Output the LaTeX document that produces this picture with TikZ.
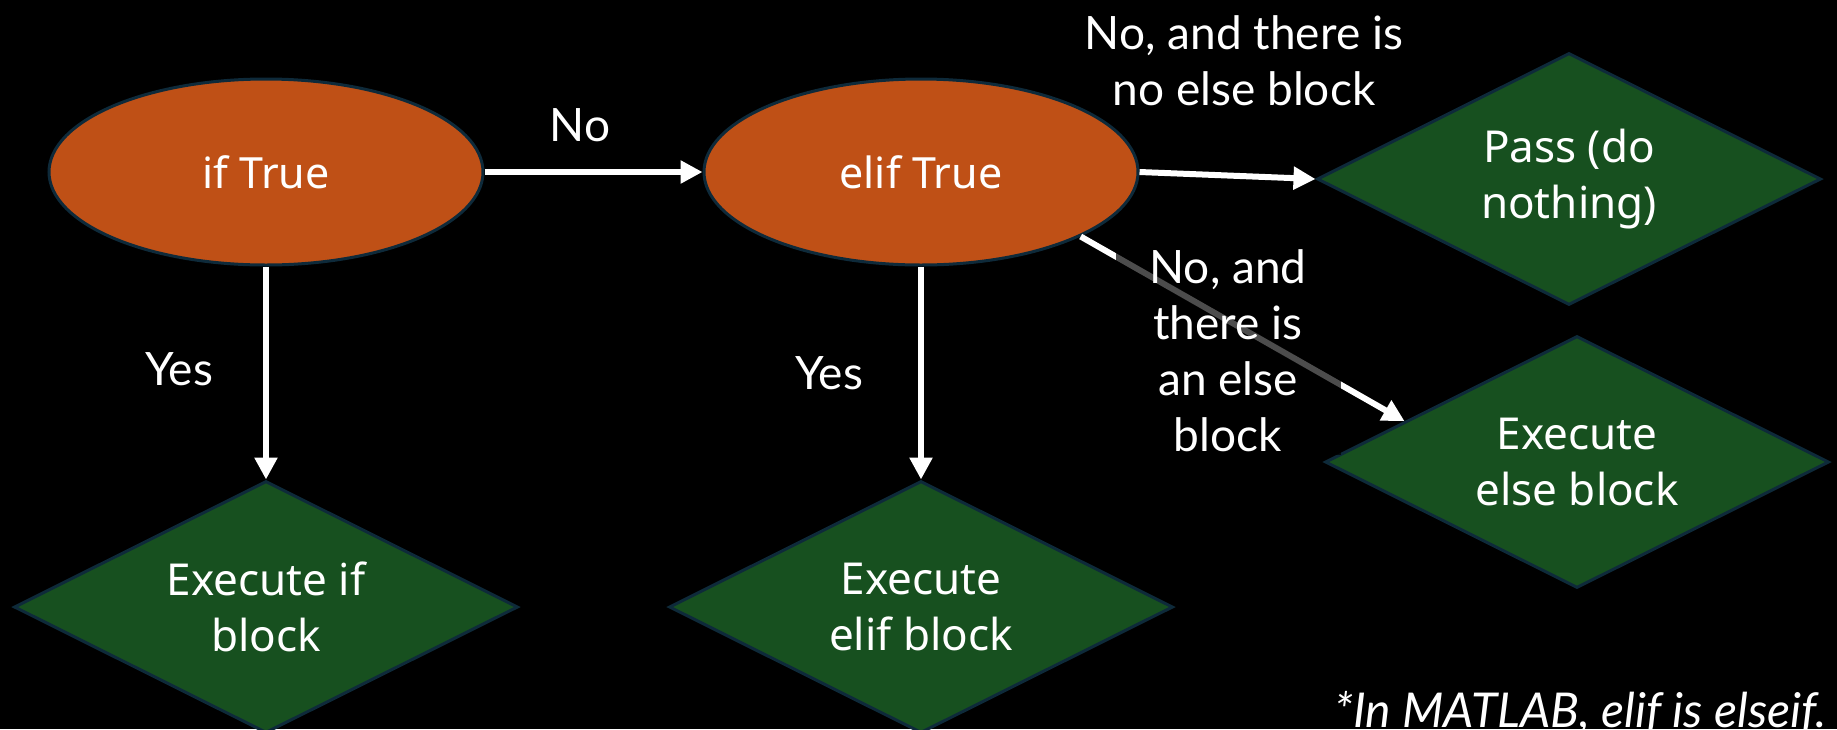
\documentclass[tikz,border=0pt]{standalone}
\usepackage{fontspec}
\setmainfont{Noto Sans}
\newfontfamily\labelfont{Lato}
\usetikzlibrary{shapes.geometric,arrows.meta,positioning,calc}
\definecolor{condorange}{HTML}{BF5016}
\definecolor{blockgreen}{HTML}{17501F}
\definecolor{rimblue}{HTML}{0E2A3A}

\begin{document}
\begin{tikzpicture}[x=1pt,y=-1pt]
	\tikzset{
	  CondStyle/.style = { ellipse, draw=rimblue, line width=3pt, fill=condorange,
	                       text=white, minimum width=434pt, minimum height=186pt,
	                       font=\fontsize{43}{56}\selectfont },
	  BlockStyle/.style = { diamond, aspect=2, draw=rimblue, line width=3pt,
	                        fill=blockgreen, text=white, align=center, inner sep=0pt,
	                        minimum width=504pt, minimum height=252pt,
	                        font=\fontsize{44}{56}\selectfont },
	  EdgeStyle/.style = { white, line width=6pt, -{Triangle[length=22pt,width=22pt]} },
	  LabelStyle/.style = { text=white, align=center,
	                        font=\labelfont\fontsize{46}{56}\selectfont } }
	\useasboundingbox (0,0) rectangle (1837,729);
	\fill[black] (0,0) rectangle (1837,729);
	% conditions
	\node[CondStyle] (iftrue) at (266,172) {if True};
	\node[CondStyle, right=218pt of iftrue] (eliftrue) {elif True};
	% blocks
	\node[BlockStyle, below=213pt of iftrue] (execif) {Execute if\\block};
	\node[BlockStyle, below=213pt of eliftrue] (execelif) {Execute\\elif block};
	\node[BlockStyle] (pass) at (1569,179) {Pass (do\\nothing)};
	\node[BlockStyle] (execelse) at (1577,462) {Execute\\else block};
	% edges
	\coordinate (elsein) at ($(execelse.west)!0.32!(execelse.north)$);
	\draw[EdgeStyle] (iftrue) -- (eliftrue);
	\draw[EdgeStyle] (iftrue) -- (execif);
	\draw[EdgeStyle] (eliftrue) -- (execelif);
	\draw[EdgeStyle] (eliftrue.east) -- (pass.west);
	\draw[EdgeStyle] (eliftrue.-22) -- (elsein);
	% labels
	\node[LabelStyle] (nolbl) at (580,125) {No};
	\node[LabelStyle] (yesif) at (179,369) {Yes};
	\node[LabelStyle] (yeselif) at (829,373) {Yes};
	\node[LabelStyle] (noelse) at (1244,61) {No, and there is\\no else block};
	\node[LabelStyle, fill=black, fill opacity=0.7, text opacity=1,
	      inner xsep=34pt] (haselse) at (1228,351) {No, and\\there is\\an else\\block};
	\node[LabelStyle, anchor=base east, font=\labelfont\itshape\fontsize{48}{56}\selectfont]
	      (matlab) at (1830,727) {*In MATLAB, elif is elseif.};
\end{tikzpicture}
\end{document}
